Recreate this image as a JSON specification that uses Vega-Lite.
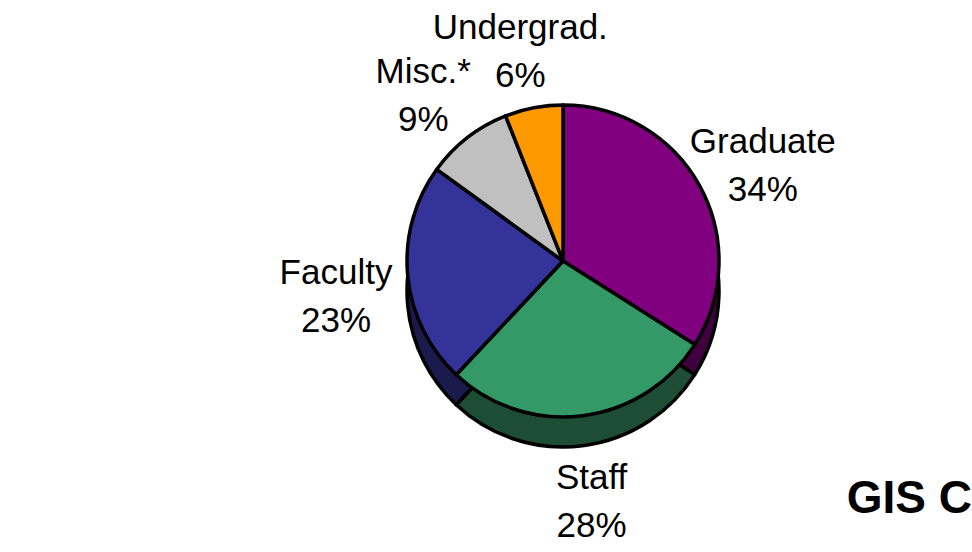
{
  "$schema": "https://vega.github.io/schema/vega-lite/v6.json",
  "width": 818,
  "height": 522,
  "autosize": "none",
  "padding": {"left": 154, "top": 0, "right": 0, "bottom": 30},
  "background": "white",
  "config": {"view": {"stroke": null}, "font": "Liberation Sans"},
  "title": {
    "text": "GIS C",
    "orient": "bottom",
    "anchor": "end",
    "fontSize": 46,
    "fontWeight": "bold",
    "font": "Liberation Sans",
    "color": "black",
    "offset": -51,
    "dy": -16
  },
  "data": {
    "values": [
      {"name": "Graduate", "pct": 34},
      {"name": "Staff", "pct": 28},
      {"name": "Faculty", "pct": 23},
      {"name": "Misc.*", "pct": 9},
      {"name": "Undergrad.", "pct": 6}
    ]
  },
  "transform": [
    {"calculate": "datum.name + '\\n' + datum.pct + '%'", "as": "label"}
  ],
  "encoding": {
    "theta": {"field": "pct", "type": "quantitative", "stack": true},
    "order": {"field": "pct", "sort": "descending"}
  },
  "layer": [
    {
      "mark": {"type": "arc", "outerRadius": 156, "yOffset": 30, "stroke": "black", "strokeWidth": 3.5, "strokeJoin": "round"},
      "encoding": {
        "color": {
          "field": "name",
          "type": "nominal",
          "scale": {
            "domain": ["Graduate", "Staff", "Faculty", "Misc.*", "Undergrad."],
            "range": ["#400040", "#1E4D35", "#1A1A4C", "#606060", "#804D00"]
          },
          "legend": null
        }
      }
    },
    {
      "mark": {"type": "arc", "outerRadius": 156, "stroke": "black", "strokeWidth": 3.5, "strokeJoin": "round"},
      "encoding": {
        "color": {
          "field": "name",
          "type": "nominal",
          "scale": {
            "domain": ["Graduate", "Staff", "Faculty", "Misc.*", "Undergrad."],
            "range": ["#800080", "#339966", "#333399", "#C0C0C0", "#FF9900"]
          },
          "legend": null
        }
      }
    },
    {
      "mark": {
        "type": "text",
        "radius": 228,
        "yOffset": -9,
        "fontSize": 35,
        "lineBreak": "\n",
        "lineHeight": 48,
        "font": "Liberation Sans",
        "color": "black",
        "align": "center",
        "baseline": "middle"
      },
      "encoding": {"text": {"field": "label", "type": "nominal"}}
    }
  ],
  "resolve": {"scale": {"color": "independent"}}
}
